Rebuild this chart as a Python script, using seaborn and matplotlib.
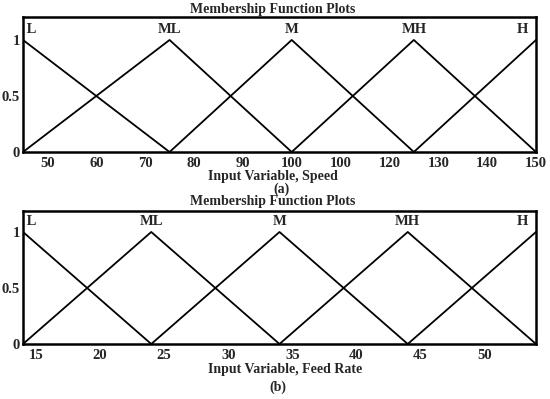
import matplotlib
matplotlib.use("Agg")
import matplotlib.pyplot as plt
import seaborn as sns
import pandas as pd

# ---- data ----
set_names = ["L", "ML", "M", "MH", "H"]
speed_peaks = [45, 75, 100, 125, 150]
speed_ticks = [50, 60, 70, 80, 90, 100, 110, 120, 130, 140, 150]
speed_tick_labels = ["50", "60", "70", "80", "90", "100", "100", "120", "130", "140", "150"]
feed_peaks = [14, 24, 34, 44, 54]
feed_ticks = [15, 20, 25, 30, 35, 40, 45, 50]
feed_tick_labels = ["15", "20", "25", "30", "35", "40", "45", "50"]
y_ticks = [0, 0.5, 1]
y_tick_labels = ["0", "0.5", "1"]

sns.set_style("white")
plt.rcParams['font.family'] = ['Liberation Serif', 'DejaVu Serif']
plt.rcParams['font.weight'] = 'bold'

W, H = 550.0, 399.0


def build_frame(peaks):
    rows = []
    n = len(peaks)
    for i, name in enumerate(set_names):
        pts = []
        if i > 0:
            pts.append((peaks[i - 1], 0.0))
        pts.append((peaks[i], 1.0))
        if i < n - 1:
            pts.append((peaks[i + 1], 0.0))
        for k, (x, y) in enumerate(pts):
            rows.append({"set": name, "x": x, "y": y, "order": k})
    return pd.DataFrame(rows)


def draw(ax, peaks, ticks, tick_labels, ylim_top):
    df = build_frame(peaks)
    sns.lineplot(data=df, x="x", y="y", units="set", estimator=None, sort=False,
                 color="black", lw=1.3, ax=ax, legend=False)
    ax.set_xlim(peaks[0], peaks[-1])
    ax.set_ylim(0, ylim_top)
    ax.set_xticks(ticks)
    ax.set_xticklabels(tick_labels, fontsize=10.5, fontweight='bold')
    ax.set_yticks(y_ticks)
    ax.set_yticklabels(y_tick_labels, fontsize=10.5, fontweight='bold')
    ax.tick_params(axis='x', length=0, pad=3.5)
    ax.tick_params(axis='y', length=0, pad=2)
    for s in ax.spines.values():
        s.set_visible(True)
        s.set_color("black")
        s.set_linewidth(1.8)
    ax.set_xlabel("")
    ax.set_ylabel("")
    for i, name in enumerate(set_names):
        if i == 0:
            ax.text(peaks[i], 1.035, " " + name, ha="left", va="bottom", fontsize=10.5, fontweight='bold')
        elif i == len(set_names) - 1:
            ax.text(peaks[i], 1.035, name + "  ", ha="right", va="bottom", fontsize=10.5, fontweight='bold')
        else:
            ax.text(peaks[i], 1.035, name, ha="center", va="bottom", fontsize=10.5, fontweight='bold')


def ftext(x, y, s, size=10):
    fig.text(x / W, 1 - y / H, s, ha="center", va="center", fontsize=size, fontweight='bold')


fig = plt.figure(figsize=(5.5, 3.99), dpi=100)
ax1 = fig.add_axes([23 / W, 1 - 152 / H, 513 / W, 135 / H])
ax2 = fig.add_axes([23 / W, 1 - 344 / H, 513 / W, 133.3 / H])
draw(ax1, speed_peaks, speed_ticks, speed_tick_labels, 1.205)
draw(ax2, feed_peaks, feed_ticks, feed_tick_labels, 1.19)

ftext(273, 9, "Membership Function Plots")
ftext(273, 177, "Input Variable, Speed")
ftext(282, 189, "(a)")
ftext(273, 202, "Membership Function Plots")
ftext(285.5, 369, "Input Variable, Feed Rate")
ftext(278, 387, "(b)")

fig.savefig("out.png", dpi=100)
